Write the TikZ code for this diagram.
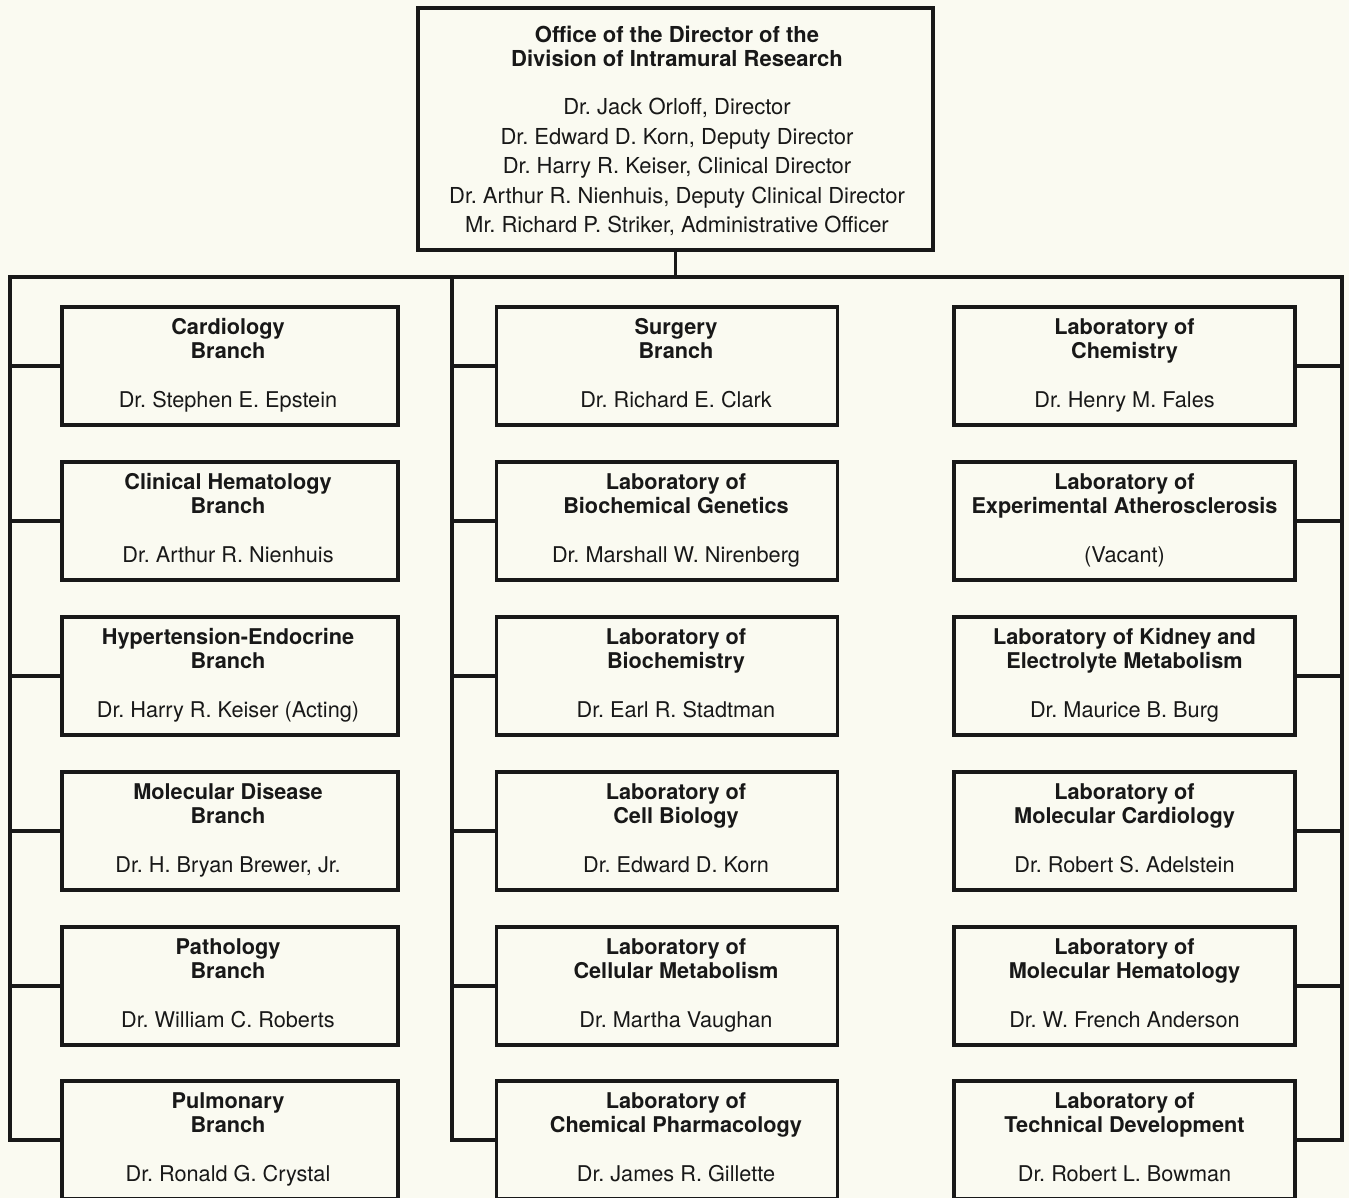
\documentclass[tikz,border=0pt]{standalone}
\usepackage{fontspec}
\setmainfont{TeX Gyre Heros}
\frenchspacing
\definecolor{paper}{RGB}{250,250,241}
\definecolor{ink}{RGB}{24,24,24}
% one organisational unit: box style, name, position, text offset, title lines, head
\newcommand\orgunit[7]{%
  \node[#1] (#2) at (#3) {};
  \node[unittext] (#2-text) at ([xshift=#4]#2.center)
    {\strut\textbf{#5}\\\textbf{#6}\\[25pt]#7\strut};}
\begin{document}
\begin{tikzpicture}[x=1pt,y=-1pt,
  wire/.style={draw=ink,line width=3.2pt,line cap=rect},
  unitbox/.style={draw=ink,line width=3.2pt,rectangle,inner sep=0pt,minimum height=118pt},
  unittext/.style={align=center,inner sep=0pt,text=ink,font=\fontsize{21.7}{24}\selectfont},
  leftbox/.style={unitbox,minimum width=336pt},
  midbox/.style={unitbox,minimum width=341pt},
  rightbox/.style={unitbox,minimum width=341pt},
  headbox/.style={unitbox,minimum width=515pt,minimum height=242pt}]
\useasboundingbox (0,0) rectangle (1349,1198);
\fill[paper] (0,0) rectangle (1349,1198);

% director's office
\node[headbox] (office) at (675.5,129) {};
\node[unittext,font=\fontsize{22}{24}\selectfont] (office-text) at ([xshift=1.5pt,yshift=-4pt]office.center)
  {\strut\textbf{Office of the Director of the}\\
  \textbf{Division of Intramural Research}\\[24pt]
  Dr. Jack Orloff, Director\\[5.5pt]
  Dr. Edward D. Korn, Deputy Director\\[5.5pt]
  Dr. Harry R. Keiser, Clinical Director\\[5.5pt]
  Dr. Arthur R. Nienhuis, Deputy Clinical Director\\[5.5pt]
  Mr. Richard P. Striker, Administrative Officer\strut};

% branches (left column)
\orgunit{leftbox}{L1}{230,366}{-2pt}{Cardiology}{Branch}{Dr. Stephen E. Epstein}
\orgunit{leftbox}{L2}{230,521}{-2pt}{Clinical Hematology}{Branch}{Dr. Arthur R. Nienhuis}
\orgunit{leftbox}{L3}{230,676}{-2pt}{Hypertension-Endocrine}{Branch}{Dr. Harry R. Keiser (Acting)}
\orgunit{leftbox}{L4}{230,831}{-2pt}{Molecular Disease}{Branch}{Dr. H. Bryan Brewer, Jr.}
\orgunit{leftbox}{L5}{230,986}{-2pt}{Pathology}{Branch}{Dr. William C. Roberts}
\orgunit{leftbox}{L6}{230,1140}{-2pt}{Pulmonary}{Branch}{Dr. Ronald G. Crystal}

% middle column
\orgunit{midbox}{M1}{667,366}{9pt}{Surgery}{Branch}{Dr. Richard E. Clark}
\orgunit{midbox}{M2}{667,521}{9pt}{Laboratory of}{Biochemical Genetics}{Dr. Marshall W. Nirenberg}
\orgunit{midbox}{M3}{667,676}{9pt}{Laboratory of}{Biochemistry}{Dr. Earl R. Stadtman}
\orgunit{midbox}{M4}{667,831}{9pt}{Laboratory of}{Cell Biology}{Dr. Edward D. Korn}
\orgunit{midbox}{M5}{667,986}{9pt}{Laboratory of}{Cellular Metabolism}{Dr. Martha Vaughan}
\orgunit{midbox}{M6}{667,1140}{9pt}{Laboratory of}{Chemical Pharmacology}{Dr. James R. Gillette}

% right column
\orgunit{rightbox}{R1}{1124.5,366}{0pt}{Laboratory of}{Chemistry}{Dr. Henry M. Fales}
\orgunit{rightbox}{R2}{1124.5,521}{0pt}{Laboratory of}{Experimental Atherosclerosis}{(Vacant)}
\orgunit{rightbox}{R3}{1124.5,676}{0pt}{Laboratory of Kidney and}{Electrolyte Metabolism}{Dr. Maurice B. Burg}
\orgunit{rightbox}{R4}{1124.5,831}{0pt}{Laboratory of}{Molecular Cardiology}{Dr. Robert S. Adelstein}
\orgunit{rightbox}{R5}{1124.5,986}{0pt}{Laboratory of}{Molecular Hematology}{Dr. W. French Anderson}
\orgunit{rightbox}{R6}{1124.5,1140}{0pt}{Laboratory of}{Technical Development}{Dr. Robert L. Bowman}

% distribution bus
\coordinate (busL) at (10,277);
\coordinate (busM) at (452,277);
\coordinate (busR) at (1342,277);
\draw[wire] (office.south) -- (office.south |- busL);
\draw[wire] (busL) -- (busR);
\draw[wire,line join=miter] (busL) |- (L6.west);
\draw[wire,line join=miter] (busM) |- (M6.west);
\draw[wire,line join=miter] (busR) |- (R6.east);
\foreach \r in {1,...,5}{
  \draw[wire] (L\r.west) -- (L\r.west -| busL);
  \draw[wire] (M\r.west) -- (M\r.west -| busM);
  \draw[wire] (R\r.east) -- (R\r.east -| busR);
}
\end{tikzpicture}
\end{document}
